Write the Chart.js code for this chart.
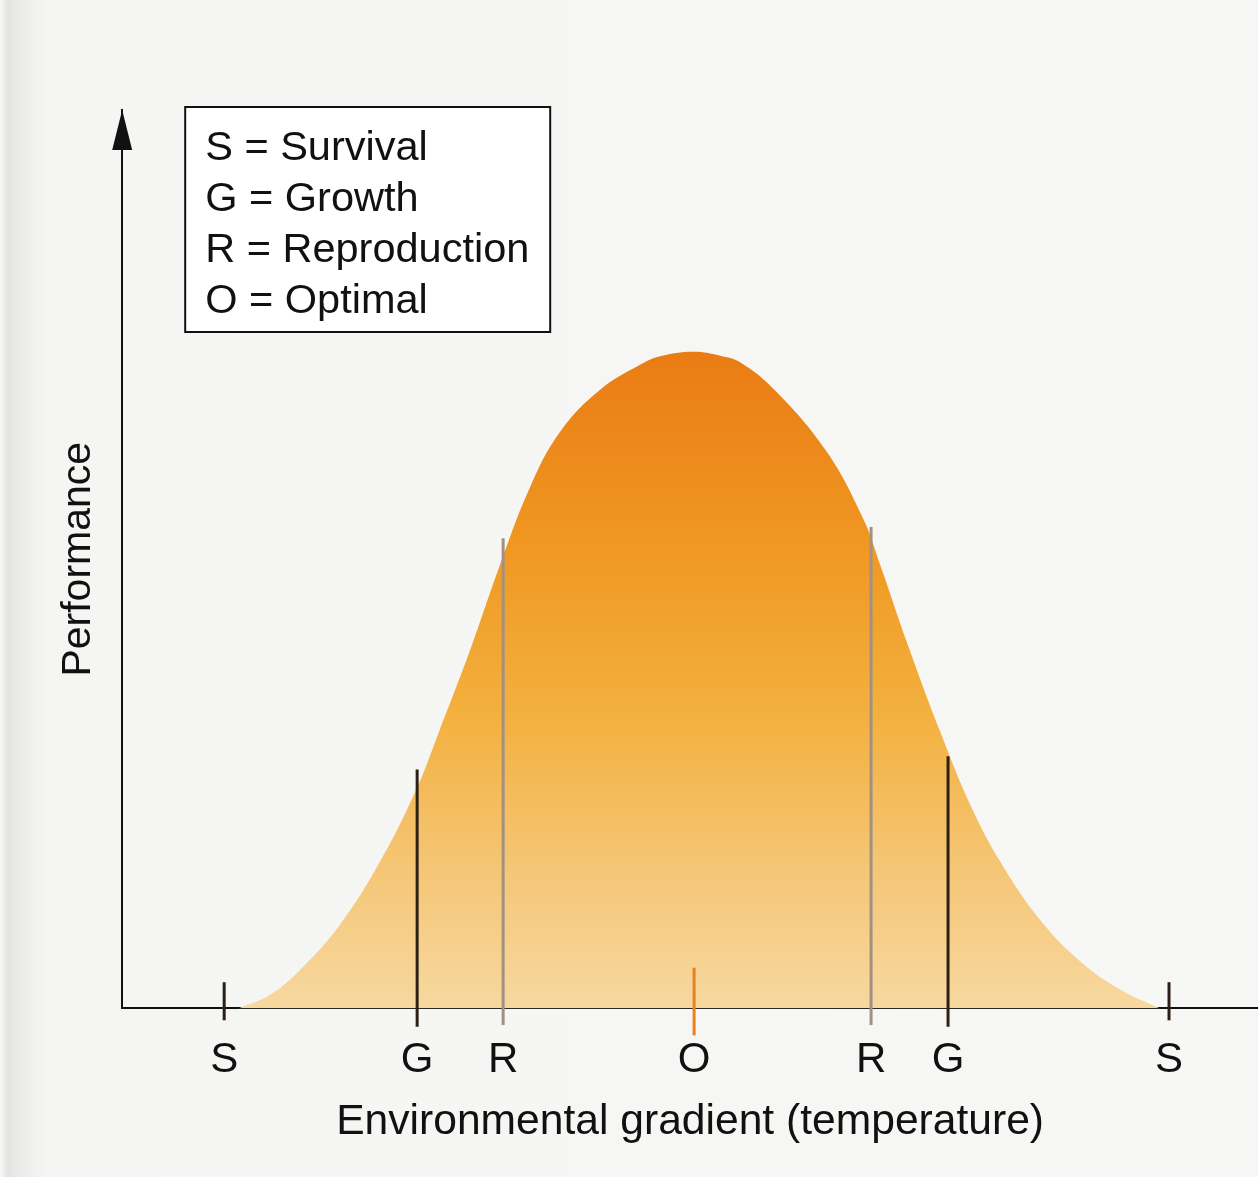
<!DOCTYPE html>
<html>
<head>
<meta charset="utf-8">
<script src="https://cdn.jsdelivr.net/npm/chart.js@4.4.1/dist/chart.umd.min.js"></script>
<style>
  html, body { margin: 0; padding: 0; }
  body {
    width: 1258px; height: 1177px; overflow: hidden;
    background: linear-gradient(to right, #f9f9f8 0px, #e3e3e1 8px, #ebebe9 20px, #f5f5f3 45px, #f7f7f5 100%);
  }
  canvas { display: block; }
</style>
</head>
<body>
<canvas id="performance_curve" width="1258" height="1177"></canvas>
<script>
  // performance curve, gradient position vs relative performance (peak = 100)
  const curveX = [11.6, 14.8, 17.8, 21.8, 25.8, 29.4, 31.8, 34.8, 37.8, 40.8, 43.8, 47.8, 51.8, 53.8,
    57.1, 59.8, 61.8, 65.3, 70.4, 74.1, 75.8, 78.5, 81.8, 84.8, 87.8, 91.8, 95.8, 99.8, 103.8]
  const curveY = [0, 2.1, 5.9, 12.8, 22.4, 33.3, 42.6, 54.6, 67.6, 79.4, 87.8, 94.2, 98.0, 99.3,
    100, 99.4, 98.4, 94.1, 84.9, 74.6, 67.6, 55.7, 42.2, 31.1, 22.4, 13.5, 7.2, 2.9, 0]

  // limits on the gradient
  const markerX = [10.2, 29.5, 38.1, 57.2, 74.9, 82.6, 104.7]
  const markerLabels = ["S", "G", "R", "O", "R", "G", "S"]
  const markerTop = [4.0, 36.4, 71.6, 6.2, 73.3, 38.4, 4.0]
  const markerBottom = [-1.8, -2.8, -2.5, -4.1, -2.5, -2.8, -1.8]

  const legendCodes = ["S", "G", "R", "O"]
  const legendNames = ["Survival", "Growth", "Reproduction", "Optimal"]

  const markerColors = {
    "S": "#2a2017",
    "G": "#2d2116",
    "R": "#a29180",
    "O": "#e8821e"
  }

  Chart.defaults.font.family = "'Liberation Sans', Arial, Helvetica, sans-serif"
  Chart.defaults.color = "#111"

  const curveFill = context => {
    const chart = context.chart
    if (!chart.chartArea) return "rgba(240,160,40,1)"
    const yScale = chart.scales.y
    const g = chart.ctx.createLinearGradient(0, yScale.getPixelForValue(100), 0, yScale.getPixelForValue(0))
    g.addColorStop(0, "rgb(233,124,20)")
    g.addColorStop(0.3, "rgb(240,152,34)")
    g.addColorStop(0.55, "rgb(243,176,62)")
    g.addColorStop(0.8, "rgb(245,199,120)")
    g.addColorStop(1, "rgb(247,216,160)")
    return g
  }

  const markerDatasets = markerX.map((x, i) => ({
    label: markerLabels[i],
    data: [{x: x, y: markerBottom[i]}, {x: x, y: markerTop[i]}],
    borderColor: markerColors[markerLabels[i]],
    borderWidth: 3,
    pointRadius: 0,
    fill: false,
    clip: false
  }))

  const axisDecor = {
    id: "axisDecor",
    afterDraw(chart) {
      const {ctx, chartArea} = chart
      const left = chartArea.left
      const top = chartArea.top
      ctx.save()
      // arrow head on the y axis
      ctx.fillStyle = "#111"
      ctx.beginPath()
      ctx.moveTo(left, top)
      ctx.lineTo(left - 10, top + 40)
      ctx.lineTo(left + 10, top + 40)
      ctx.closePath()
      ctx.fill()

      // key box
      const bx = left + 63, by = top - 3, bw = 365, bh = 225
      ctx.fillStyle = "#fff"
      ctx.fillRect(bx, by, bw, bh)
      ctx.strokeStyle = "#111"
      ctx.lineWidth = 2
      ctx.strokeRect(bx, by, bw, bh)
      ctx.fillStyle = "#111"
      ctx.font = "41.5px 'Liberation Sans', Arial, sans-serif"
      ctx.textBaseline = "alphabetic"
      ctx.textAlign = "left"
      legendCodes.forEach((code, i) => {
        ctx.fillText(code + " = " + legendNames[i], bx + 20, by + 53 + i * 51)
      })
      ctx.restore()
    }
  }

  new Chart(document.getElementById("performance_curve").getContext("2d"), {
    type: "line",
    data: {
      datasets: markerDatasets.concat([{
        label: "Performance",
        data: curveX.map((x, i) => ({x: x, y: curveY[i]})),
        borderWidth: 0,
        borderColor: "rgba(0,0,0,0)",
        backgroundColor: curveFill,
        pointRadius: 0,
        tension: 0.4,
        fill: "origin"
      }])
    },
    options: {
      responsive: false,
      animation: false,
      layout: {
        padding: {left: 54, right: 0, top: 110, bottom: 29}
      },
      plugins: {
        legend: {display: false},
        tooltip: {enabled: false}
      },
      scales: {
        x: {
          type: "linear",
          position: "bottom",
          min: 0,
          max: 113.6,
          afterBuildTicks: axis => {
            axis.ticks = markerX.map(v => ({value: v}))
          },
          grid: {display: false, drawTicks: false},
          border: {display: true, color: "#111", width: 2},
          ticks: {
            autoSkip: false,
            maxRotation: 0,
            padding: 27,
            font: {size: 42},
            color: "#111",
            callback: (value, index) => markerLabels[index]
          },
          title: {
            display: true,
            text: "Environmental gradient (temperature)",
            font: {size: 42.6},
            color: "#111",
            padding: {top: -16, bottom: 0}
          }
        },
        y: {
          type: "linear",
          min: 0,
          max: 136.8,
          grid: {display: false, drawTicks: false},
          border: {display: true, color: "#111", width: 2},
          ticks: {display: false},
          title: {
            display: true,
            text: "Performance",
            font: {size: 41},
            color: "#111",
            padding: {top: 0, bottom: 19}
          }
        }
      }
    },
    plugins: [axisDecor]
  })
</script>
</body>
</html>
